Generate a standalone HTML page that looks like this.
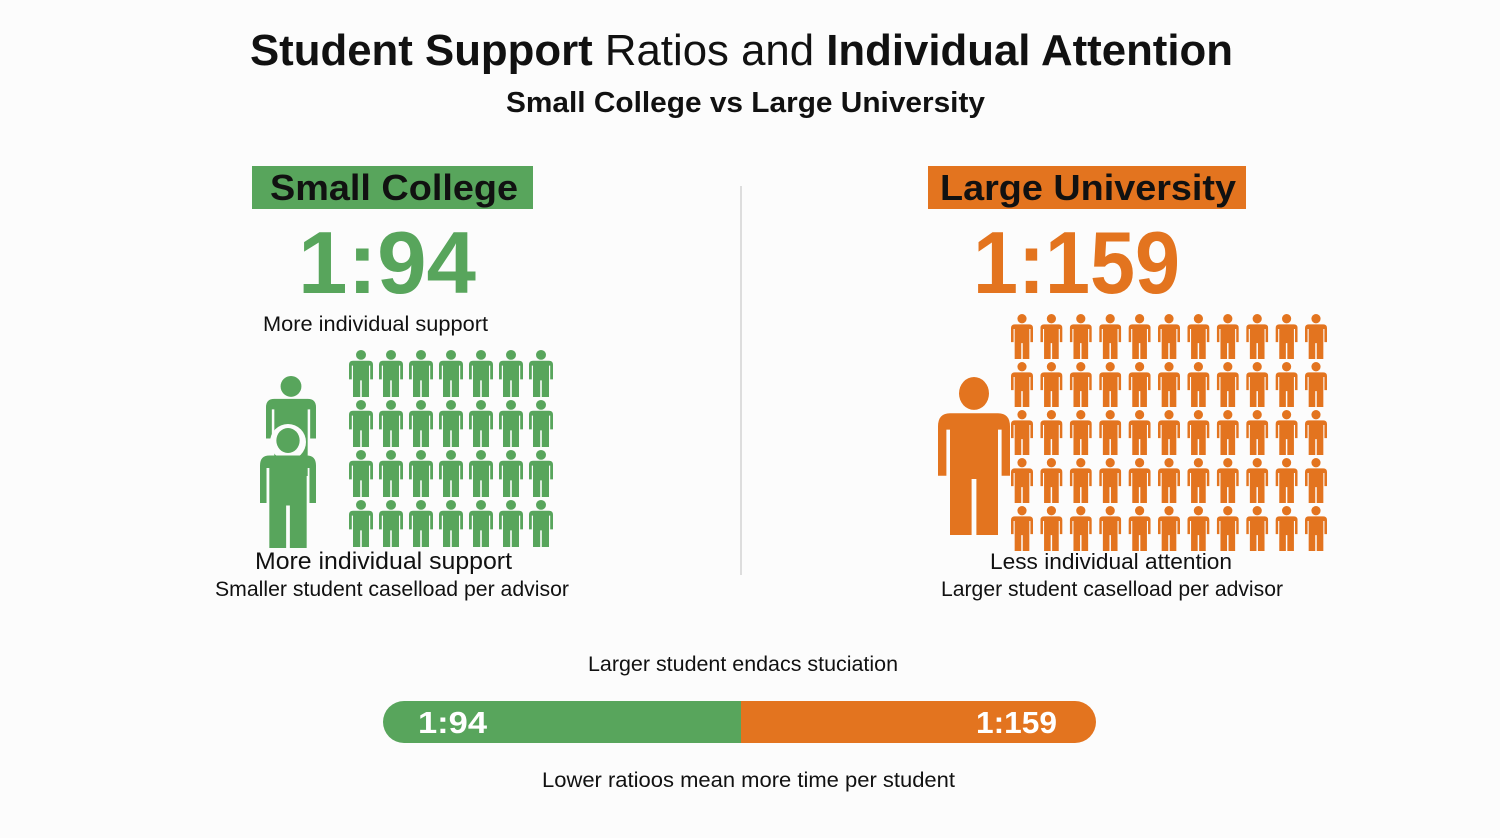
<!DOCTYPE html>
<html><head><meta charset="utf-8"><style>
html,body{margin:0;padding:0;background:#fcfcfc;}
svg{display:block}
text{font-family:"Liberation Sans",sans-serif;}
</style></head><body>
<svg width="1500" height="838" viewBox="0 0 1500 838" xmlns="http://www.w3.org/2000/svg">
<defs>
<symbol id="p" viewBox="0 0 24 48" preserveAspectRatio="none">
<circle cx="12" cy="5" r="5"/>
<path d="M4,11 H20 Q24,11 24,15 V30 H21.2 V16 H20 V48 H12.8 V31 H11.2 V48 H4 V16 H2.8 V30 H0 V15 Q0,11 4,11 Z"/>
</symbol>
</defs>
<rect width="1500" height="838" fill="#fcfcfc"/>
<text x="250" y="65" font-size="44" font-weight="bold" fill="#111" textLength="983" lengthAdjust="spacingAndGlyphs">Student Support <tspan font-weight="normal">Ratios and</tspan> Individual Attention</text>
<text x="506" y="112" font-size="29" font-weight="bold" fill="#111" textLength="479" lengthAdjust="spacingAndGlyphs">Small College vs Large University</text>

<rect x="252" y="166" width="281" height="43" fill="#58a55c"/>
<text x="270" y="200" font-size="36" font-weight="bold" fill="#111" textLength="248" lengthAdjust="spacingAndGlyphs">Small College</text>
<rect x="928" y="166" width="318" height="43" fill="#e3741f"/>
<text x="940" y="200" font-size="36" font-weight="bold" fill="#111" textLength="296" lengthAdjust="spacingAndGlyphs">Large University</text>

<text x="298" y="293" font-size="88" font-weight="bold" fill="#58a55c" textLength="178" lengthAdjust="spacingAndGlyphs">1:94</text>
<text x="973" y="293" font-size="88" font-weight="bold" fill="#e3741f" textLength="207" lengthAdjust="spacingAndGlyphs">1:159</text>
<text x="263" y="331" font-size="21" fill="#111" textLength="225" lengthAdjust="spacingAndGlyphs">More individual support</text>

<line x1="741" y1="186" x2="741" y2="575" stroke="#ddd" stroke-width="2"/>

<g fill="#58a55c">
<use href="#p" x="266" y="376" width="50" height="100"/>
<circle cx="288" cy="442" r="18" fill="#fcfcfc"/>
<use href="#p" x="260" y="428" width="56" height="120"/>
<g id="gr">
<use href="#p" x="349" y="350" width="24" height="47"/><use href="#p" x="379" y="350" width="24" height="47"/><use href="#p" x="409" y="350" width="24" height="47"/><use href="#p" x="439" y="350" width="24" height="47"/><use href="#p" x="469" y="350" width="24" height="47"/><use href="#p" x="499" y="350" width="24" height="47"/><use href="#p" x="529" y="350" width="24" height="47"/>
</g>
<use href="#gr" y="50"/><use href="#gr" y="100"/><use href="#gr" y="150"/>
</g>

<g fill="#e3741f">
<use href="#p" x="938" y="377" width="72" height="158"/>
<g id="or">
<use href="#p" x="1011" y="314" width="22" height="45"/><use href="#p" x="1040.4" y="314" width="22" height="45"/><use href="#p" x="1069.8" y="314" width="22" height="45"/><use href="#p" x="1099.2" y="314" width="22" height="45"/><use href="#p" x="1128.6" y="314" width="22" height="45"/><use href="#p" x="1158" y="314" width="22" height="45"/><use href="#p" x="1187.4" y="314" width="22" height="45"/><use href="#p" x="1216.8" y="314" width="22" height="45"/><use href="#p" x="1246.2" y="314" width="22" height="45"/><use href="#p" x="1275.6" y="314" width="22" height="45"/><use href="#p" x="1305" y="314" width="22" height="45"/>
</g>
<use href="#or" y="48"/><use href="#or" y="96"/><use href="#or" y="144"/><use href="#or" y="192"/>
</g>

<text x="255" y="569" font-size="24" fill="#111" textLength="257" lengthAdjust="spacingAndGlyphs">More individual support</text>
<text x="215" y="596" font-size="21" fill="#111" textLength="354" lengthAdjust="spacingAndGlyphs">Smaller student caselload per advisor</text>
<text x="990" y="569" font-size="22" fill="#111" textLength="242" lengthAdjust="spacingAndGlyphs">Less individual attention</text>
<text x="941" y="596" font-size="21" fill="#111" textLength="342" lengthAdjust="spacingAndGlyphs">Larger student caselload per advisor</text>

<text x="588" y="671" font-size="21" fill="#111" textLength="310" lengthAdjust="spacingAndGlyphs">Larger student endacs stuciation</text>
<path d="M404,701 H741 V743 H404 A21,21 0 0 1 404,701 Z" fill="#58a55c"/>
<path d="M741,701 H1075 A21,21 0 0 1 1075,743 H741 Z" fill="#e3741f"/>
<text x="418" y="733" font-size="31" font-weight="bold" fill="#fff" textLength="69" lengthAdjust="spacingAndGlyphs">1:94</text>
<text x="976" y="733" font-size="31" font-weight="bold" fill="#fff" textLength="81" lengthAdjust="spacingAndGlyphs">1:159</text>
<text x="542" y="787" font-size="21" fill="#111" textLength="413" lengthAdjust="spacingAndGlyphs">Lower ratioos mean more time per student</text>
</svg>
</body></html>
